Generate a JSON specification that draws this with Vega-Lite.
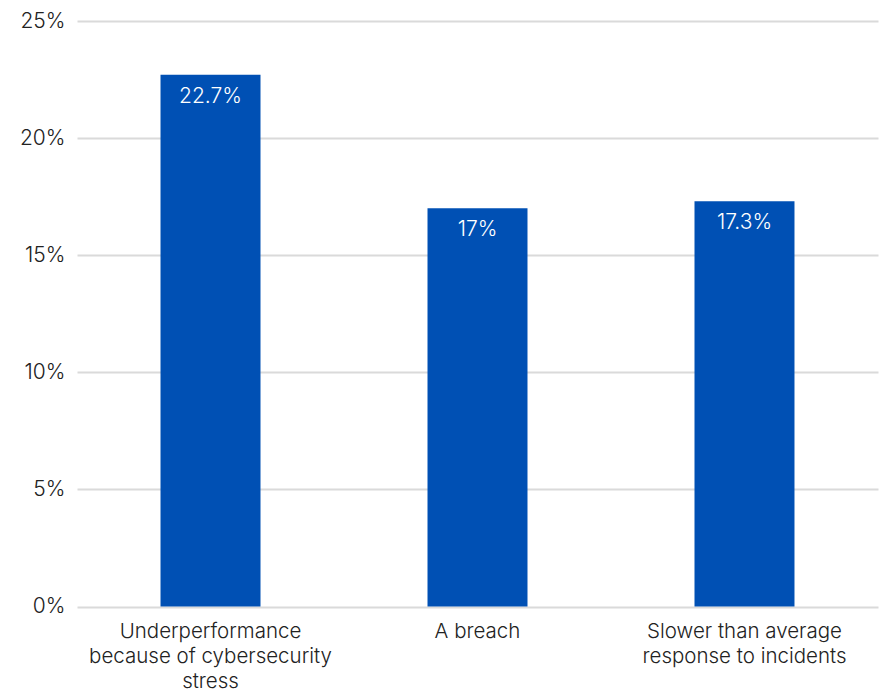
{
  "$schema": "https://vega.github.io/schema/vega-lite/v6.json",
  "autosize": {"type": "none"},
  "width": 801,
  "height": 585.5,
  "padding": {"left": 77, "top": 21, "right": 3, "bottom": 84.5},
  "background": "white",
  "config": {
    "view": {"stroke": null},
    "font": "Inter"
  },
  "data": {
    "values": [
      {"category": "Underperformance because of cybersecurity stress", "value": 0.227},
      {"category": "A breach", "value": 0.17},
      {"category": "Slower than average response to incidents", "value": 0.173}
    ]
  },
  "encoding": {
    "x": {
      "field": "category",
      "type": "nominal",
      "sort": null,
      "scale": {"paddingInner": 0.6255, "paddingOuter": 0.3128},
      "axis": {
        "title": null,
        "domain": false,
        "ticks": false,
        "labelAngle": 0,
        "labelFont": "Inter",
        "labelFontSize": 20.5,
        "labelFontWeight": 300,
        "labelColor": "#222222",
        "labelBaseline": "top",
        "labelLineHeight": 25,
        "labelPadding": 14.5,
        "labelLimit": 400,
        "labelExpr": "datum.value == 'Underperformance because of cybersecurity stress' ? ['Underperformance', 'because of cybersecurity', 'stress'] : datum.value == 'Slower than average response to incidents' ? ['Slower than average', 'response to incidents'] : datum.value"
      }
    },
    "y": {
      "field": "value",
      "type": "quantitative",
      "scale": {"domain": [0, 0.25], "nice": false},
      "axis": {
        "title": null,
        "domain": false,
        "ticks": false,
        "format": ".0%",
        "values": [0, 0.05, 0.1, 0.15, 0.2, 0.25],
        "labelFont": "Inter",
        "labelFontSize": 21,
        "labelFontWeight": 300,
        "labelColor": "#222222",
        "labelPadding": 12,
        "grid": true,
        "gridColor": "#dadada",
        "gridWidth": 2
      }
    }
  },
  "layer": [
    {"mark": {"type": "bar", "color": "#0050B4"}},
    {
      "mark": {"type": "text", "color": "white", "baseline": "top", "dy": 11, "fontSize": 21, "fontWeight": 300, "font": "Inter"},
      "encoding": {"text": {"field": "value", "type": "quantitative", "format": ".1~%"}}
    }
  ]
}
